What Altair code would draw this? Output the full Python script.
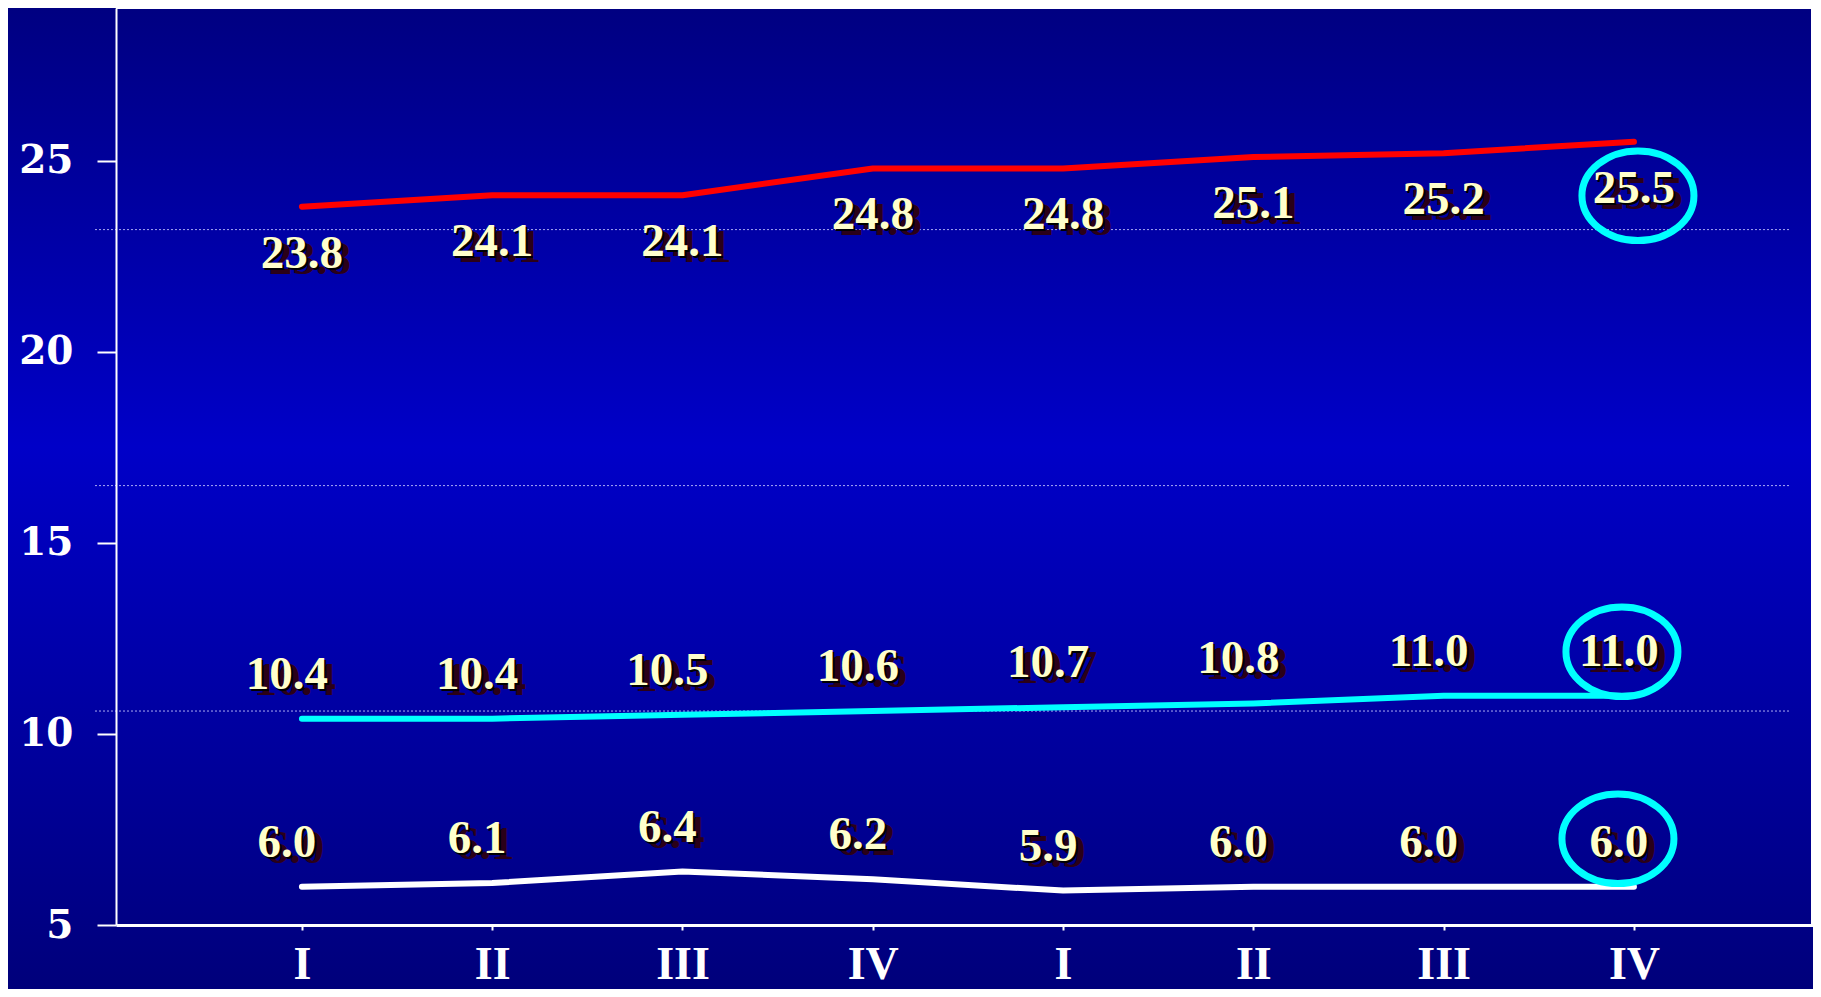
import json
import altair as alt
import pandas as pd

# ---------------- data ----------------
quarters = ["I", "II", "III", "IV", "I", "II", "III", "IV"]
series_names = ["top", "middle", "bottom"]
top_values = [23.8, 24.1, 24.1, 24.8, 24.8, 25.1, 25.2, 25.5]
middle_values = [10.4, 10.4, 10.5, 10.6, 10.7, 10.8, 11.0, 11.0]
bottom_values = [6.0, 6.1, 6.4, 6.2, 5.9, 6.0, 6.0, 6.0]
y_ticks = [5, 10, 15, 20, 25]
grid_values = [23.2, 16.5, 10.6]

# ---------------- styles ----------------
W, H = 1697, 917
line_colors = ["#FF0000", "#00FFFF", "#FFFFFF"]
label_offsets = {"top": (0, 47), "middle": (-15, -44), "bottom": (-15, -44)}
ring_offsets = {"top": (4, 54), "middle": (-12, -44), "bottom": (-16, -48)}
label_color = "#FFFFCC"
serif = "Liberation Serif"

rows = []
for name, vals in zip(series_names, [top_values, middle_values, bottom_values]):
    for i, v in enumerate(vals):
        rows.append({"idx": i, "quarter": quarters[i], "series": name,
                     "value": v, "label": f"{v:.1f}"})
df = pd.DataFrame(rows)
one = pd.DataFrame({"a": [0]})
grid_df = pd.DataFrame({"value": grid_values})

x_enc = alt.X(
    "idx:Q",
    scale=alt.Scale(domain=[-0.977, 7.941], nice=False, zero=False),
    axis=alt.Axis(
        values=list(range(len(quarters))),
        labelExpr=f"{json.dumps(quarters)}[datum.value]",
        title=None, grid=False, zindex=1,
        domainColor="white", domainWidth=3,
        tickColor="white", tickWidth=2, tickSize=5,
        labelColor="white", labelFont=serif, labelFontWeight="bold",
        labelFontSize=46, labelPadding=12,
    ),
)
y_enc = alt.Y(
    "value:Q",
    scale=alt.Scale(domain=[5, 29], nice=False, zero=False),
    axis=alt.Axis(
        values=y_ticks, title=None, grid=False, zindex=1,
        domainColor="white", domainWidth=2,
        tickColor="white", tickWidth=2, tickSize=19,
        labelColor="white", labelFont="DejaVu Serif", labelFontWeight="bold",
        labelFontSize=39, labelPadding=24,
    ),
)

gradient = alt.LinearGradient(
    gradient="linear",
    stops=[
        alt.GradientStop(color="#00007E", offset=0),
        alt.GradientStop(color="#0000C8", offset=0.45),
        alt.GradientStop(color="#000078", offset=1),
    ],
    x1=0, x2=0, y1=0, y2=1,
)

bg = alt.Chart(one).mark_rect(color=gradient).encode(
    x=alt.value(-120), x2=alt.value(W + 20),
    y=alt.value(-20), y2=alt.value(H + 82),
)

grid = alt.Chart(grid_df).mark_rule(
    color="#C8C8FF", strokeWidth=1, strokeDash=[2, 2], opacity=0.85
).encode(y=y_enc, x=alt.value(-21), x2=alt.value(1673))

frame_top = alt.Chart(one).mark_rule(color="white", strokeWidth=2).encode(
    x=alt.value(0), x2=alt.value(W), y=alt.value(0)
)
frame_right = alt.Chart(one).mark_rule(color="white", strokeWidth=2).encode(
    x=alt.value(W - 1), y=alt.value(0), y2=alt.value(H)
)

lines = alt.Chart(df).mark_line(
    strokeWidth=6, strokeCap="round", strokeJoin="round"
).encode(
    x=x_enc, y=y_enc,
    color=alt.Color("series:N", scale=alt.Scale(domain=series_names, range=line_colors), legend=None),
)

layers = [bg, grid, lines]

ellipse = "M -1 0 A 1 0.8 0 1 1 1 0 A 1 0.8 0 1 1 -1 0 Z"
last_idx = len(quarters) - 1

for name in series_names:
    dx, dy = label_offsets[name]
    base = alt.Chart(df).transform_filter(alt.datum.series == name)
    for sx, sy, col in [(8, 6, "#2A0018"), (2, 2, "#000000"), (0, 0, label_color)]:
        layers.append(
            base.mark_text(
                font=serif, fontSize=47, fontWeight="bold", color=col,
                align="center", baseline="middle", dx=dx + sx, dy=dy + sy,
            ).encode(x=x_enc, y=y_enc, text="label:N")
        )
    rx, ry = ring_offsets[name]
    layers.append(
        base.transform_filter(alt.datum.idx == last_idx).mark_point(
            shape=ellipse, size=112 * 112, filled=False, stroke="#00FFFF",
            strokeWidth=7, opacity=1, xOffset=rx, yOffset=ry,
        ).encode(x=x_enc, y=y_enc)
    )

layers += [frame_top, frame_right]

chart = alt.layer(*layers).properties(
    width=W, height=H,
    autosize=alt.AutoSizeParams(type="none"),
    padding={"left": 108, "top": 0, "right": 0, "bottom": 64},
).configure(background="#00007E").configure_view(stroke="transparent")

chart.save("out.html", embed_options={"renderer": "svg", "actions": False})
